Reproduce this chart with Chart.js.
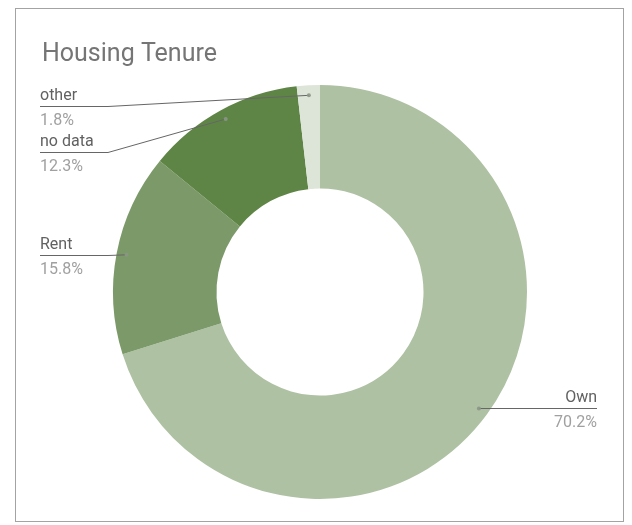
<!DOCTYPE html>
<html>
<head>
<meta charset="utf-8">
<title>Housing Tenure</title>
<script src="https://cdn.jsdelivr.net/npm/chart.js@4"></script>
<style>
  html, body { margin: 0; padding: 0; background: #ffffff; }
  canvas { display: block; }
</style>
</head>
<body>
<canvas id="chart" width="632" height="525"></canvas>
<script>
const chartTitle = 'Housing Tenure';
const categories = ['Own', 'Rent', 'no data', 'other'];
const shares = [70.2, 15.8, 12.3, 1.8];
const sliceColors = ['#aec1a3', '#7c9a69', '#5f8546', '#dce5d7'];

const FONT = 'Roboto, "Noto Sans", Arial, sans-serif';

// Frame and title drawn around the doughnut
const framePlugin = {
  id: 'frame',
  beforeDraw(chart) {
    const ctx = chart.ctx;
    ctx.save();
    ctx.fillStyle = '#ffffff';
    ctx.fillRect(0, 0, chart.width, chart.height);
    ctx.strokeStyle = '#a3a3a3';
    ctx.lineWidth = 1;
    ctx.strokeRect(15.5, 8.5, 608, 513);
    ctx.fillStyle = '#757575';
    ctx.font = '25px ' + FONT;
    ctx.textBaseline = 'alphabetic';
    ctx.textAlign = 'left';
    ctx.fillText(chartTitle, 42, 61);
    ctx.restore();
  }
};

// Outside labels with leader lines, one per slice
const leaderLabels = {
  id: 'leaderLabels',
  afterDatasetsDraw(chart) {
    const ctx = chart.ctx;
    const meta = chart.getDatasetMeta(0);
    const area = chart.chartArea;
    const items = meta.data.map((arc, i) => {
      const mid = (arc.startAngle + arc.endAngle) / 2;
      const r = arc.outerRadius - 10;
      return {
        i,
        px: arc.x + Math.cos(mid) * r,
        py: arc.y + Math.sin(mid) * r,
        right: Math.cos(mid) >= 0
      };
    });
    const minLine = area.top + 21;
    const gap = 46;
    ['left', 'right'].forEach(side => {
      const group = items.filter(it => (side === 'right') === it.right)
        .sort((a, b) => a.py - b.py);
      let prev = -Infinity;
      group.forEach(it => {
        it.lineY = Math.max(it.py, minLine, prev + gap);
        prev = it.lineY;
      });
    });

    ctx.save();
    items.forEach(it => {
      const name = categories[it.i];
      const pct = shares[it.i].toFixed(1) + '%';
      const y = Math.round(it.lineY) + 0.5;
      let textX, bendX;
      if (it.right) {
        textX = 597;
        bendX = Math.min(529, it.px);
      } else {
        textX = 40;
        bendX = Math.min(108, it.px);
      }
      ctx.strokeStyle = '#666666';
      ctx.lineWidth = 1;
      ctx.beginPath();
      ctx.moveTo(textX, y);
      ctx.lineTo(bendX, y);
      ctx.lineTo(it.px, it.py);
      ctx.stroke();

      ctx.fillStyle = 'rgba(140,150,135,0.9)';
      ctx.beginPath();
      ctx.arc(it.px, it.py, 2, 0, Math.PI * 2);
      ctx.fill();

      ctx.font = '16px ' + FONT;
      ctx.textBaseline = 'alphabetic';
      ctx.textAlign = it.right ? 'right' : 'left';
      ctx.fillStyle = '#616161';
      ctx.fillText(name, textX, y - 6.5);
      ctx.fillStyle = '#a0a0a0';
      ctx.fillText(pct, textX, y + 18.5);
    });
    ctx.restore();
  }
};

new Chart(document.getElementById('chart'), {
  type: 'doughnut',
  data: {
    labels: categories,
    datasets: [{
      data: shares,
      backgroundColor: sliceColors,
      borderWidth: 0,
      hoverOffset: 0
    }]
  },
  options: {
    responsive: false,
    animation: false,
    cutout: '50%',
    layout: { padding: { left: 113, right: 105, top: 85, bottom: 26 } },
    plugins: {
      legend: { display: false },
      title: { display: false },
      tooltip: { enabled: false }
    }
  },
  plugins: [framePlugin, leaderLabels]
});
</script>
</body>
</html>
